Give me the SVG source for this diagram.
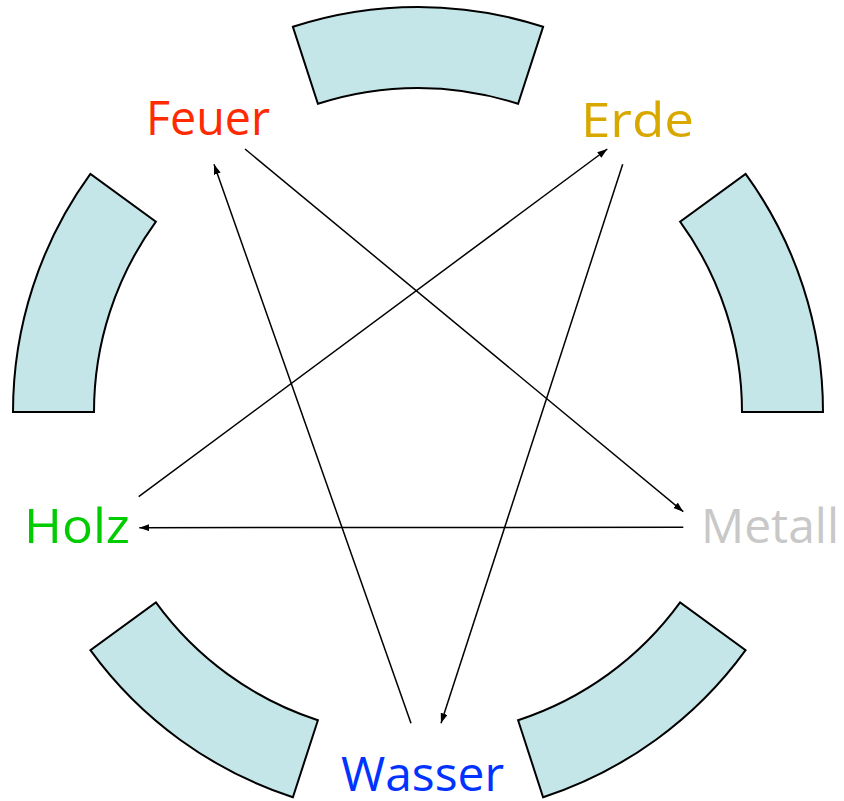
<svg xmlns="http://www.w3.org/2000/svg" width="844" height="801" viewBox="0 0 844 801">
<style>
.seg{fill:#c5e6e8;stroke:#000;stroke-width:2}
.lbl{font-family:"Open Sans","DejaVu Sans",sans-serif;font-size:48px}
.conn line{stroke:#000;stroke-width:1.5;marker-end:url(#ah)}
</style>
<defs>
<marker id="ah" markerUnits="userSpaceOnUse" markerWidth="11" markerHeight="8" refX="10" refY="3.5" orient="auto">
<path d="M0,0 L10,3.5 L0,7 Z" fill="#000"/>
</marker>
</defs>
<g id="ring">
<path class="seg" d="M292.9,26.8 A405,405 0 0 1 543.1,26.8 L518.1,103.8 A324,324 0 0 0 317.9,103.8 Z"/>
<path class="seg" d="M745.6,173.9 A405,405 0 0 1 823,412 L742,412 A324,324 0 0 0 680.1,221.6 Z"/>
<path class="seg" d="M745.6,650.1 A405,405 0 0 1 543.1,797.2 L518.1,720.2 A324,324 0 0 0 680.1,602.4 Z"/>
<path class="seg" d="M292.9,797.2 A405,405 0 0 1 90.4,650.1 L155.9,602.4 A324,324 0 0 0 317.9,720.2 Z"/>
<path class="seg" d="M13,412 A405,405 0 0 1 90.4,173.9 L155.9,221.6 A324,324 0 0 0 94,412 Z"/>
</g>
<g id="feuer"><text class="lbl" x="146" y="135" fill="#ff2a00" textLength="124" lengthAdjust="spacingAndGlyphs">Feuer</text></g>
<g id="erde"><text class="lbl" x="581" y="137" fill="#d9a800" textLength="113" lengthAdjust="spacingAndGlyphs">Erde</text></g>
<g id="metall"><text class="lbl" x="701" y="543" fill="#c8c8c8" textLength="138" lengthAdjust="spacingAndGlyphs">Metall</text></g>
<g id="holz"><text class="lbl" x="24" y="543" fill="#00cc00" textLength="106" lengthAdjust="spacingAndGlyphs">Holz</text></g>
<g id="wasser"><text class="lbl" x="341" y="791" fill="#0033ff" textLength="163" lengthAdjust="spacingAndGlyphs">Wasser</text></g>
<g class="conn" id="connectors">
<line x1="245" y1="149" x2="683.3" y2="511.7"/>
<line x1="683.3" y1="527.3" x2="139.3" y2="527.7"/>
<line x1="138.7" y1="496.7" x2="607.3" y2="149"/>
<line x1="622.7" y1="164.3" x2="441" y2="723.3"/>
<line x1="411" y1="723.3" x2="214" y2="164.3"/>
</g>
</svg>
